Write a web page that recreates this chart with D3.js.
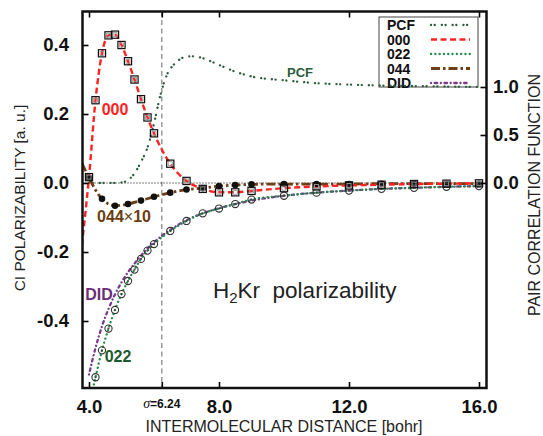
<!DOCTYPE html>
<html><head><meta charset="utf-8">
<script src="https://cdn.jsdelivr.net/npm/d3@7/dist/d3.min.js"></script>
<style>
html,body{margin:0;padding:0;background:#fff;}
svg{display:block;font-family:"Liberation Sans",Arial,Helvetica,sans-serif;}
</style></head>
<body>
<svg id="chart" width="543" height="436"></svg>
<script>
// ---------- data ----------
const xTicks = [4, 6.24, 8, 12, 16];
const xTickLabels = ["4.0", "", "8.0", "12.0", "16.0"];
const leftTicks = [-0.4, -0.2, 0.0, 0.2, 0.4];
const rightTicks = [0.0, 0.5, 1.0];
const sigmaValue = 6.24;

const r000 = [3.78, 4.0, 4.2, 4.4, 4.6, 4.8, 5.0, 5.2, 5.4, 5.6, 5.8, 6.0, 6.5, 7.0, 7.5, 8.0, 8.5, 9.0, 10, 11, 12, 13, 14, 15, 16];
const v000 = [-0.18, 0.017, 0.24, 0.376, 0.428, 0.43, 0.40, 0.353, 0.30, 0.243, 0.19, 0.144, 0.056, 0.006, -0.017, -0.027, -0.027, -0.023, -0.015, -0.010, -0.007, -0.005, -0.003, -0.002, -0.001];
const m000 = [4.0, 4.2, 4.4, 4.6, 4.8, 5.0, 5.2, 5.4, 5.6, 5.8, 6.0, 6.5, 7.0, 7.5, 8.0, 8.5, 9.0, 10, 11, 12, 13, 14, 15, 16];

const r022 = [4.0, 4.2, 4.4, 4.6, 4.8, 5.0, 5.2, 5.4, 5.6, 5.8, 6.0, 6.5, 7.0, 7.5, 8.0, 8.5, 9.0, 10, 11, 12, 13, 14, 15, 16];
const v022 = [-0.645, -0.563, -0.485, -0.422, -0.368, -0.322, -0.284, -0.251, -0.22, -0.196, -0.177, -0.139, -0.11, -0.088, -0.074, -0.061, -0.048, -0.037, -0.028, -0.022, -0.017, -0.014, -0.011, -0.009];
const m022 = [4.2, 4.4, 4.6, 4.8, 5.0, 5.2, 5.4, 5.6, 5.8, 6.0, 6.5, 7.0, 7.5, 8.0, 8.5, 9.0, 10, 11, 12, 13, 14, 15, 16];

const r044 = [3.78, 4.0, 4.2, 4.4, 4.8, 5.2, 5.6, 6.0, 6.5, 7.0, 7.5, 8.0, 8.5, 9.0, 10, 11, 12, 13, 14, 15, 16];
const v044 = [0.058, 0.015, -0.02, -0.046, -0.066, -0.061, -0.051, -0.040, -0.028, -0.019, -0.015, -0.009, -0.006, -0.004, -0.003, -0.003, -0.003, -0.002, -0.002, -0.002, -0.002];
const m044 = [4.0, 4.4, 4.8, 5.2, 5.6, 6.0, 6.5, 7.0, 7.5, 8.0, 8.5, 9.0, 10, 11, 12, 13, 14, 15, 16];

const rDID = [4.0, 4.2, 4.4, 4.6, 4.8, 5.0, 5.5, 6.0, 6.5, 7.0, 7.5, 8.0, 9.0, 10, 11, 12, 13, 14, 15, 16];
const vDID = [-0.555, -0.478, -0.415, -0.365, -0.323, -0.288, -0.222, -0.172, -0.136, -0.108, -0.088, -0.073, -0.051, -0.037, -0.028, -0.022, -0.017, -0.014, -0.011, -0.009];

const rPCF = [4.0, 4.5, 5.0, 5.2, 5.4, 5.6, 5.8, 6.0, 6.2, 6.4, 6.6, 6.8, 7.0, 7.2, 7.5, 8.0, 8.5, 9.0, 10, 11, 12, 13, 14, 15, 16];
const vPCF = [0.0, 0.0, 0.005, 0.03, 0.1, 0.22, 0.37, 0.62, 0.92, 1.13, 1.23, 1.29, 1.315, 1.32, 1.3, 1.23, 1.16, 1.11, 1.07, 1.04, 1.025, 1.015, 1.01, 1.005, 1.0];

const legendNames = ["PCF", "000", "022", "044", "DID"];

// ---------- layout ----------
const svg = d3.select("#chart");
const L = 82.5, R = 486.5, T = 11.5, B = 388;
const x = d3.scaleLinear().domain([4, 16]).range([89, 479]);
const yL = d3.scaleLinear().domain([0, 0.4]).range([183, 45]);
const yR = d3.scaleLinear().domain([0, 1]).range([183, 87]);

const C = {
  PCF: "#2b5d3c", c000: "#ff2323", c022: "#1f8c47", c044: "#6e3f16", DID: "#7b3b8c"
};
const styles = {
  PCF: {stroke: C.PCF, w: 2.3, dash: "0.1,3.6,0.1,7", cap: "round"},
  "000": {stroke: C.c000, w: 2.4, dash: "6,3.5", cap: "butt"},
  "022": {stroke: C.c022, w: 2.3, dash: "0.1,4.2", cap: "round"},
  "044": {stroke: C.c044, w: 2.8, dash: "9,3,2.5,3", cap: "butt"},
  DID: {stroke: C.DID, w: 2.3, dash: "0.1,3.6,2.5,3.6", cap: "round"}
};

const defs = svg.append("defs");
defs.append("clipPath").attr("id", "plotclip")
  .append("rect").attr("x", L).attr("y", T).attr("width", R - L).attr("height", B - T);

// sigma vertical dashed line
svg.append("line")
  .attr("x1", x(sigmaValue)).attr("x2", x(sigmaValue))
  .attr("y1", T).attr("y2", B)
  .attr("stroke", "#8a8a8a").attr("stroke-width", 1.3).attr("stroke-dasharray", "5,3.5");

// zero dotted line
svg.append("line")
  .attr("x1", L).attr("x2", R).attr("y1", yL(0)).attr("y2", yL(0))
  .attr("stroke", "#000").attr("stroke-width", 1).attr("stroke-dasharray", "1,2");

// legend box (drawn below curves)
const lg = svg.append("g");
lg.append("rect").attr("x", 379).attr("y", 17).attr("width", 99).attr("height", 70)
  .attr("fill", "#fff").attr("stroke", "#444").attr("stroke-width", 1);

const plot = svg.append("g").attr("clip-path", "url(#plotclip)");

function zip(xs, vs) { return xs.map((d, i) => [d, vs[i]]); }
function drawLine(xs, vs, ys, st) {
  const ln = d3.line().x(d => x(d[0])).y(d => ys(d[1])).curve(d3.curveMonotoneX);
  plot.append("path").datum(zip(xs, vs)).attr("d", ln)
    .attr("fill", "none").attr("stroke", st.stroke).attr("stroke-width", st.w)
    .attr("stroke-dasharray", st.dash).attr("stroke-linecap", st.cap);
}
function lookup(xs, vs, xv) { return vs[xs.indexOf(xv)]; }

drawLine(rPCF, vPCF, yR, styles.PCF);
drawLine(rDID, vDID, yL, styles.DID);
drawLine(r022, v022, yL, styles["022"]);
drawLine(r044, v044, yL, styles["044"]);
drawLine(r000, v000, yL, styles["000"]);

// markers 044: filled black circles
plot.append("g").selectAll("circle").data(m044).join("circle")
  .attr("cx", d => x(d)).attr("cy", d => yL(lookup(r044, v044, d))).attr("r", 3.3)
  .attr("fill", "#111");
// markers 022: ring with dot
const g022 = plot.append("g").selectAll("g").data(m022).join("g")
  .attr("transform", d => `translate(${x(d)},${yL(lookup(r022, v022, d))})`);
g022.append("circle").attr("r", 3.6).attr("fill", "none").attr("stroke", "#333").attr("stroke-width", 1.1);
g022.append("circle").attr("r", 1.1).attr("fill", "#444");
// markers 000: square in square
const g000 = plot.append("g").selectAll("g").data(m000).join("g")
  .attr("transform", d => `translate(${x(d)},${yL(lookup(r000, v000, d))})`);
g000.append("rect").attr("x", -3.6).attr("y", -3.6).attr("width", 7.2).attr("height", 7.2)
  .attr("fill", "none").attr("stroke", "#111").attr("stroke-width", 1.2);
g000.append("rect").attr("x", -2).attr("y", -2).attr("width", 4).attr("height", 4)
  .attr("fill", "none").attr("stroke", "#999").attr("stroke-width", 0.9);

// legend entries
const lstyles = [styles.PCF, styles["000"], styles["022"], styles["044"], styles.DID];
legendNames.forEach((n, i) => {
  const cy = 25 + i * 14.5;
  lg.append("text").attr("x", 387).attr("y", cy + 5).text(n)
    .attr("font-size", 14).attr("font-weight", "bold").attr("fill", "#111");
  const st = lstyles[i];
  lg.append("line").attr("x1", 431).attr("x2", 470).attr("y1", cy).attr("y2", cy)
    .attr("stroke", st.stroke).attr("stroke-width", st.w).attr("stroke-dasharray", st.dash)
    .attr("stroke-linecap", st.cap);
});

// ---------- axes ----------
const tickStyle = g => {
  g.select(".domain").remove();
  g.selectAll(".tick line").attr("stroke", "#000").attr("stroke-width", 1.6);
  g.selectAll(".tick text").attr("font-family", "Liberation Sans, Arial, sans-serif")
    .attr("font-size", 18.5).attr("font-weight", "bold").attr("fill", "#111");
};
svg.append("g").attr("transform", `translate(0,${B})`)
  .call(d3.axisBottom(x).tickValues(xTicks).tickSize(-6).tickPadding(12)
    .tickFormat((d, i) => xTickLabels[i]))
  .call(tickStyle);
svg.append("g").attr("transform", `translate(0,${T})`)
  .call(d3.axisTop(x).tickValues(xTicks).tickSize(-6).tickFormat(""))
  .call(tickStyle);
svg.append("g").attr("transform", `translate(${L},0)`)
  .call(d3.axisLeft(yL).tickValues(leftTicks).tickSize(-6).tickPadding(13.5)
    .tickFormat(d => d.toFixed(1)))
  .call(tickStyle);
svg.append("g").attr("transform", `translate(${R},0)`)
  .call(d3.axisRight(yR).tickValues(rightTicks).tickSize(-6).tickPadding(6.5)
    .tickFormat(d => d.toFixed(1)))
  .call(tickStyle);

// sigma label
const st = svg.append("text").attr("x", x(sigmaValue)).attr("y", 408).attr("text-anchor", "middle")
  .attr("fill", "#111");
st.append("tspan").text("σ").attr("font-family", "Liberation Serif, DejaVu Serif, serif")
  .attr("font-style", "italic").attr("font-size", 14);
st.append("tspan").text("=" + sigmaValue.toFixed(2)).attr("font-size", 12).attr("font-weight", "bold");

// frame
svg.append("rect").attr("x", L).attr("y", T).attr("width", R - L).attr("height", B - T)
  .attr("fill", "none").attr("stroke", "#111").attr("stroke-width", 2.5);

// axis titles
svg.append("text").attr("x", 284).attr("y", 432).attr("text-anchor", "middle")
  .attr("font-size", 16).attr("fill", "#222").text("INTERMOLECULAR DISTANCE [bohr]");
svg.append("text").attr("transform", "translate(25,198) rotate(-90)").attr("text-anchor", "middle")
  .attr("font-size", 15.5).attr("fill", "#222").text("CI POLARIZABILITY [a. u.]");
svg.append("text").attr("transform", "translate(539.5,195) rotate(-90)").attr("text-anchor", "middle")
  .attr("font-size", 16).attr("fill", "#222").text("PAIR CORRELATION FUNCTION");

// in-plot labels
svg.append("text").attr("x", 115).attr("y", 115).attr("text-anchor", "middle")
  .attr("font-size", 16).attr("font-weight", "bold").attr("fill", C.c000).text("000");
const t044 = svg.append("text").attr("x", 124).attr("y", 222).attr("text-anchor", "middle")
  .attr("font-size", 16).attr("font-weight", "bold").attr("fill", "#6b3d12");
t044.append("tspan").text("044");
t044.append("tspan").text("×").attr("font-weight", "normal");
t044.append("tspan").text("10");
svg.append("text").attr("x", 118).attr("y", 362).attr("text-anchor", "middle")
  .attr("font-size", 16).attr("font-weight", "bold").attr("fill", "#1c5a2e").text("022");
svg.append("text").attr("x", 99).attr("y", 300).attr("text-anchor", "middle")
  .attr("font-size", 16).attr("font-weight", "bold").attr("fill", "#6b2f78").text("DID");
svg.append("text").attr("x", 300).attr("y", 77).attr("text-anchor", "middle")
  .attr("font-size", 13).attr("font-weight", "bold").attr("fill", "#2b5d3c").text("PCF");

// title
const tt = svg.append("text").attr("x", 213).attr("y", 298).attr("font-size", 22.5).attr("fill", "#222")
  .attr("xml:space", "preserve");
tt.append("tspan").text("H");
tt.append("tspan").text("2").attr("font-size", 15).attr("dy", 5);
tt.append("tspan").text("Kr\u00a0\u00a0polarizability").attr("dy", -5);
</script>
</body></html>
